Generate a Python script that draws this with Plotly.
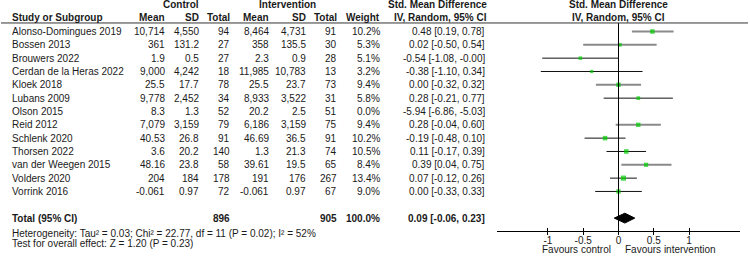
import plotly.graph_objects as go

# ---------------- data ----------------
studies = ["Alonso-Domingues 2019", "Bossen 2013", "Brouwers 2022", "Cerdan de la Heras 2022",
           "Kloek 2018", "Lubans 2009", "Olson 2015", "Reid 2012", "Schlenk 2020", "Thorsen 2022",
           "van der Weegen 2015", "Volders 2020", "Vorrink 2016"]
ctrl_mean = ["10,714", "361", "1.9", "9,000", "25.5", "9,778", "8.3", "7,079", "40.53", "3.6", "48.16", "204", "-0.061"]
ctrl_sd = ["4,550", "131.2", "0.5", "4,242", "17.7", "2,452", "1.3", "3,159", "26.8", "20.2", "23.8", "184", "0.97"]
ctrl_n = [94, 27, 27, 18, 78, 34, 52, 79, 91, 140, 58, 178, 72]
int_mean = ["8,464", "358", "2.3", "11,985", "25.5", "8,933", "20.2", "6,186", "46.69", "1.3", "39.61", "191", "-0.061"]
int_sd = ["4,731", "135.5", "0.9", "10,783", "23.7", "3,522", "2.5", "3,159", "36.5", "21.3", "19.5", "176", "0.97"]
int_n = [91, 30, 28, 13, 73, 31, 51, 75, 91, 74, 65, 267, 67]
weight = [10.2, 5.3, 5.1, 3.2, 9.4, 5.8, 0.0, 9.4, 10.2, 10.5, 8.4, 13.4, 9.0]
smd = [0.48, 0.02, -0.54, -0.38, 0.00, 0.28, -5.94, 0.28, -0.19, 0.11, 0.39, 0.07, 0.00]
ci_lo = [0.19, -0.50, -1.08, -1.10, -0.32, -0.21, -6.86, -0.04, -0.48, -0.17, 0.04, -0.12, -0.33]
ci_hi = [0.78, 0.54, -0.00, 0.34, 0.32, 0.77, -5.03, 0.60, 0.10, 0.39, 0.75, 0.26, 0.33]
total_ctrl = 896
total_int = 905
total_weight = 100.0
pooled = 0.09
pooled_lo = -0.06
pooled_hi = 0.23
heterogeneity = "Heterogeneity: Tau² = 0.03; Chi² = 22.77, df = 11 (P = 0.02); I² = 52%"
overall = "Test for overall effect: Z = 1.20 (P = 0.23)"
tick_vals = [-1, -0.5, 0, 0.5, 1]
tick_text = ["-1", "-0.5", "0", "0.5", "1"]
favours_left = "Favours control"
favours_right = "Favours intervention"

# ---------------- style ----------------
W, H = 750, 256
FONT = "Liberation Sans, Arial, sans-serif"
TXT = "#1a1a1a"
GREEN = "#00CC00"
line_gray = [True, True, False, False, True, False, False, True, False, False, True, False, False]
ROW0_PX, ROW_PX = 31.5, 13.33
y_top = -ROW0_PX / ROW_PX
y_bot = (H - ROW0_PX) / ROW_PX
TOTAL_Y = 14
AXIS_Y = 15
HEADER_LINE_Y = -0.64

fig = go.Figure()

# CI lines and squares
for i in range(len(studies)):
    gray = line_gray[i]
    fig.add_trace(go.Scatter(
        x=[ci_lo[i], ci_hi[i]], y=[i, i], mode="lines",
        line=dict(color="#8a8a8a" if gray else "#111111", width=2 if gray else 1),
        hoverinfo="skip", showlegend=False))
fig.add_trace(go.Scatter(
    x=smd, y=list(range(len(studies))), mode="markers",
    marker=dict(symbol="square", color=GREEN, size=[2.6 + w * 0.19 for w in weight], line=dict(width=0)),
    showlegend=False, hoverinfo="skip"))

# pooled diamond
dh = 0.37
fig.add_trace(go.Scatter(
    x=[pooled_lo, pooled, pooled_hi, pooled, pooled_lo],
    y=[TOTAL_Y, TOTAL_Y - dh, TOTAL_Y, TOTAL_Y + dh, TOTAL_Y],
    mode="lines", fill="toself", fillcolor="black", line=dict(color="black", width=1),
    showlegend=False, hoverinfo="skip"))

# zero line
fig.add_trace(go.Scatter(x=[0, 0], y=[HEADER_LINE_Y, AXIS_Y], mode="lines",
                         line=dict(color="black", width=1), showlegend=False, hoverinfo="skip"))

ann = []


def txt(xpx, y, s, anchor="right", bold=False, xref="paper"):
    xv = xpx / W if xref == "paper" else xpx
    ann.append(dict(x=xv, y=y, xref=xref, yref="y", text=f"<b>{s}</b>" if bold else s,
                    xanchor=anchor, yanchor="middle", showarrow=False,
                    font=dict(family=FONT, size=10, color=TXT)))


# headers
txt(181, -2, "Control", "center", True)
txt(287, -2, "Intervention", "center", True)
txt(489, -2, "Std. Mean Difference", "right", True)
txt(618.5, -2, "Std. Mean Difference", "center", True)
txt(10, -1.05, "Study or Subgroup", "left", True)
for xp, s in [(167, "Mean"), (201, "SD"), (232, "Total"), (271, "Mean"), (308, "SD"),
              (339, "Total"), (382, "Weight"), (489, "IV, Random, 95% CI")]:
    txt(xp, -1.05, s, "right", True)
txt(618.5, -1.05, "IV, Random, 95% CI", "center", True)

# rows
for i in range(len(studies)):
    txt(10, i, studies[i], "left")
    txt(167, i, ctrl_mean[i])
    txt(201, i, ctrl_sd[i])
    txt(232, i, str(ctrl_n[i]))
    txt(271, i, int_mean[i])
    txt(308, i, int_sd[i])
    txt(339, i, str(int_n[i]))
    txt(382, i, f"{weight[i]:.1f}%")
    txt(487, i, f"{smd[i]:.2f} [{ci_lo[i]:.2f}, {ci_hi[i]:.2f}]")

# total
txt(10, TOTAL_Y, "Total (95% CI)", "left", True)
txt(232, TOTAL_Y, str(total_ctrl), "right", True)
txt(339, TOTAL_Y, str(total_int), "right", True)
txt(382, TOTAL_Y, f"{total_weight:.1f}%", "right", True)
txt(487, TOTAL_Y, f"{pooled:.2f} [{pooled_lo:.2f}, {pooled_hi:.2f}]", "right", True)
txt(10, 15.14, heterogeneity, "left")
txt(10, 15.9, overall, "left")
txt(-0.075, 16.36, favours_left, "right", xref="x")
txt(0.066, 16.36, favours_right, "left", xref="x")

# header rule
shapes = [dict(type="line", xref="paper", yref="y", x0=1 / W, x1=748 / W,
               y0=HEADER_LINE_Y, y1=HEADER_LINE_Y, line=dict(color="#333333", width=1))]

axis_pos = (H - (ROW0_PX + AXIS_Y * ROW_PX)) / H
xr = [-1.72, 1.72]
xdom = [497 / W, 740 / W]

fig.update_layout(
    width=W, height=H, margin=dict(l=0, r=0, t=0, b=0),
    paper_bgcolor="white", plot_bgcolor="white",
    font=dict(family=FONT, size=10, color=TXT),
    xaxis=dict(domain=xdom, range=xr, anchor="free", position=axis_pos,
               showline=True, linecolor="black", linewidth=1,
               ticks="inside", ticklen=3, tickcolor="black", tickwidth=1,
               tickvals=tick_vals, ticktext=tick_text, showgrid=False, zeroline=False,
               tickfont=dict(family=FONT, size=10, color=TXT)),
    xaxis2=dict(domain=xdom, range=xr, anchor="free", position=axis_pos, overlaying="x",
                showline=False, ticks="outside", ticklen=3, tickcolor="black", tickwidth=1,
                tickvals=tick_vals, showticklabels=False, showgrid=False, zeroline=False),
    yaxis=dict(domain=[0, 1], range=[y_bot, y_top], showgrid=False, zeroline=False,
               showticklabels=False, showline=False, ticks=""),
    annotations=ann, shapes=shapes, showlegend=False,
)
# invisible trace so that xaxis2 is drawn
fig.add_trace(go.Scatter(x=[0], y=[AXIS_Y], xaxis="x2", mode="markers",
                         marker=dict(opacity=0), showlegend=False, hoverinfo="skip"))

fig.write_html("out.html", config={"displayModeBar": False},
               post_script="document.body.style.margin='0';document.body.style.overflow='hidden';")
